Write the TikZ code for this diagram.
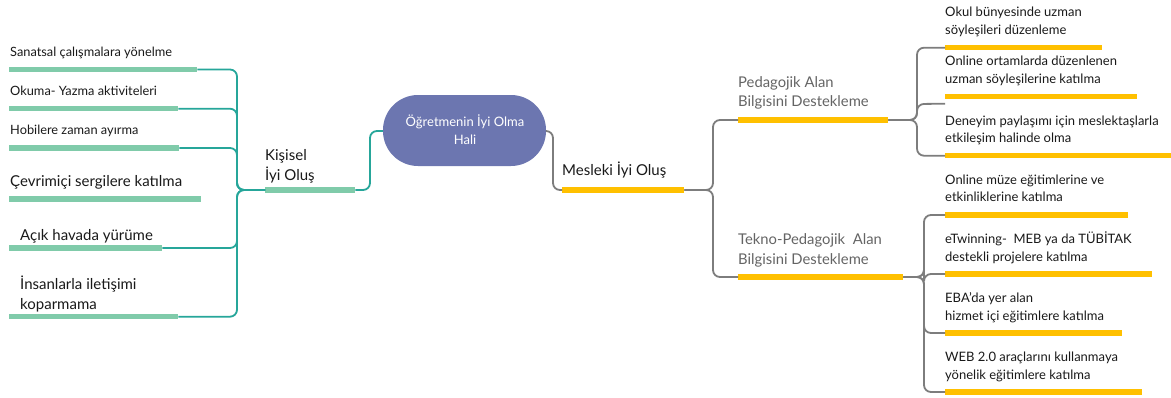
\documentclass[tikz,border=0pt]{standalone}
\usepackage{fontspec}
\setmainfont{Lato}
\definecolor{gbar}{RGB}{128,203,170}
\definecolor{tealc}{RGB}{38,166,154}
\definecolor{ybar}{RGB}{255,192,0}
\definecolor{grayc}{RGB}{125,125,125}
\definecolor{cfill}{RGB}{108,118,176}
\definecolor{gtext}{RGB}{100,100,100}
\definecolor{btext}{RGB}{25,25,25}
\begin{document}
\begin{tikzpicture}[x=1pt,y=-1pt,
  greenbar/.style={fill=gbar,minimum height=5.5pt,inner sep=0pt,anchor=west},
  yelbar/.style={fill=ybar,minimum height=5.5pt,inner sep=0pt,anchor=west},
  tconn/.style={draw=tealc,line width=1.8pt,rounded corners=7pt},
  gconn/.style={draw=grayc,line width=1.8pt,rounded corners=7pt},
  smalltxt/.style={anchor=base west,inner sep=0pt,text=btext,font=\fontsize{12.8}{15}\selectfont},
  bigtxt/.style={anchor=base west,inner sep=0pt,text=btext,align=left,font=\fontsize{15}{19.5}\selectfont},
  subtxt/.style={anchor=base west,inner sep=0pt,text=gtext,align=left,font=\fontsize{14.8}{19.5}\selectfont},
  leaftxt/.style={anchor=base west,inner sep=0pt,text=btext,align=left,font=\fontsize{13}{17.7}\selectfont},
]
\useasboundingbox (0,0) rectangle (1171,397);

% center
\node[fill=cfill,rounded corners=35pt,minimum width=163pt,minimum height=71pt,inner sep=0pt] (c) at (464.5,130.5) {};
\node[text=white,align=center,font=\fontsize{13}{17.5}\selectfont,anchor=base,inner sep=0pt] (ct) at (465,144) {Öğretmenin İyi Olma\\Hali};

% left side
\node[greenbar,minimum width=90pt] (kb) at (265,190) {};
\node[bigtxt] (kt) at (265,180) {Kişisel\\İyi Oluş};

\node[greenbar,minimum width=188pt] (l1) at (9,69.5) {};
\node[smalltxt] (l1t) at (10,56) {Sanatsal çalışmalara yönelme};
\node[greenbar,minimum width=169pt] (l2) at (9,108.7) {};
\node[smalltxt] (l2t) at (10,95.5) {Okuma- Yazma aktiviteleri};
\node[greenbar,minimum width=170pt] (l3) at (9,148) {};
\node[smalltxt] (l3t) at (10,134) {Hobilere zaman ayırma};
\node[greenbar,minimum width=192pt] (l4) at (9,199) {};
\node[bigtxt] (l4t) at (10,186.7) {Çevrimiçi sergilere katılma};
\node[greenbar,minimum width=153pt] (l5) at (9,248) {};
\node[bigtxt] (l5t) at (20,240) {Açık havada yürüme};
\node[greenbar,minimum width=169pt] (l6) at (9,316.7) {};
\node[bigtxt] (l6t) at (20,309) {İnsanlarla iletişimi\\koparmama};

\draw[tconn] (l1.east) -- (237,69.5) -- (237,190) -- (kb.west);
\draw[tconn] (l2.east) -- (237,108.7) -- (237,190) -- (kb.west);
\draw[tconn] (l3.east) -- (237,148) -- (237,190) -- (kb.west);
\draw[tconn] (l5.east) -- (237,248) -- (237,190) -- (kb.west);
\draw[tconn] (l6.east) -- (237,316.7) -- (237,190) -- (kb.west);
\draw[tconn] (kb.east) -- (370,190) -- (370,131) -- (c.west |- 0,131);

% right side
\node[yelbar,minimum width=122pt] (mb) at (562,190) {};
\node[bigtxt] (mt) at (562,175) {Mesleki İyi Oluş};
\draw[gconn] (c.east |- 0,131) -- (553,131) -- (553,190) -- (mb.west);

\node[yelbar,minimum width=150pt] (pb) at (738,120) {};
\node[subtxt] (pt) at (738,106.7) {Pedagojik Alan\\Bilgisini Destekleme};
\node[yelbar,minimum width=165pt] (tb) at (738,277) {};
\node[subtxt] (tt) at (738,264.3) {Tekno-Pedagojik\ \ Alan\\Bilgisini Destekleme};
\draw[gconn] (mb.east) -- (713,190) -- (713,120) -- (pb.west);
\draw[gconn] (mb.east) -- (713,190) -- (713,277) -- (tb.west);

\node[yelbar,minimum width=157pt] (p1) at (945,47.7) {};
\node[leaftxt] (p1t) at (945,34.3) {Okul bünyesinde uzman\\söyleşileri düzenleme};
\node[yelbar,minimum width=192pt] (p2) at (945,96.7) {};
\node[leaftxt] (p2t) at (945,83.3) {Online ortamlarda düzenlenen\\uzman söyleşilerine katılma};
\node[yelbar,minimum width=226pt] (p3) at (945,155.7) {};
\node[leaftxt] (p3t) at (945,142.7) {Deneyim paylaşımı için meslektaşlarla\\etkileşim halinde olma};
\coordinate (p2in) at ([yshift=-7pt]p2.west);
\draw[gconn] (pb.east) -- (917,120) -- (917,47.7) -- (p1.west);
\draw[gconn] (pb.east) -- (917,120) -- (917,104) -- (p2in);
\draw[gconn] (pb.east) -- (917,120) -- (917,155.7) -- (p3.west);

\node[yelbar,minimum width=183pt] (t1) at (945,215) {};
\node[leaftxt] (t1t) at (945,201.7) {Online müze eğitimlerine ve\\etkinliklerine katılma};
\node[yelbar,minimum width=207pt] (t2) at (945,274) {};
\node[leaftxt] (t2t) at (945,261) {eTwinning-\ \ MEB ya da TÜBİTAK\\destekli projelere katılma};
\node[yelbar,minimum width=177pt] (t3) at (945,333) {};
\node[leaftxt] (t3t) at (945,320) {EBA'da yer alan\\hizmet içi eğitimlere katılma};
\node[yelbar,minimum width=197pt] (t4) at (945,392) {};
\node[leaftxt] (t4t) at (945,379) {WEB 2.0 araçlarını kullanmaya\\yönelik eğitimlere katılma};
\draw[gconn] (tb.east) -- (924,277) -- (924,215) -- (t1.west);
\draw[gconn] (tb.east) -- (924,277) -- (924,274) -- (t2.west);
\draw[gconn] (tb.east) -- (924,277) -- (924,333) -- (t3.west);
\draw[gconn] (tb.east) -- (924,277) -- (924,392) -- (t4.west);
\end{tikzpicture}
\end{document}
